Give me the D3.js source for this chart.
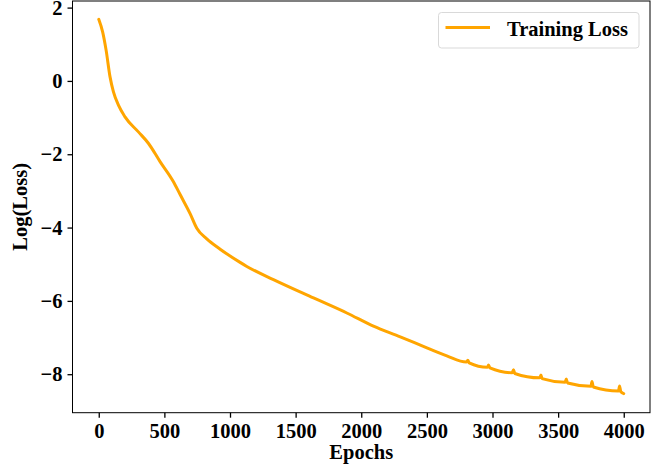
<!DOCTYPE html>
<html>
<head>
<meta charset="utf-8">
<script src="https://cdn.jsdelivr.net/npm/d3@7"></script>
<style>
  body { margin: 0; background: #fff; }
  svg { display: block; }
  text { font-family: "Liberation Serif", "Times New Roman", serif; font-weight: bold; }
</style>
</head>
<body>
<svg id="chart" width="671" height="473"></svg>
<script>
// ---- data ----
const epochs = [0, 30, 56, 86, 112, 150, 200, 302, 378, 467, 569, 620, 696, 747, 823, 925, 1077, 1128, 1331, 1636, 1890, 2093, 2297, 2500, 2652,
  2800, 2812, 2822, 2962, 2970, 2980, 3150, 3160, 3170, 3360, 3369, 3378, 3554, 3562, 3572, 3750, 3758, 3768, 3960, 3968, 3978, 4000];
const lossValues = [1.68, 1.33, 0.84, 0.11, -0.30, -0.66, -0.98, -1.39, -1.70, -2.20, -2.75, -3.10, -3.62, -4.02, -4.31, -4.59, -4.95, -5.06, -5.42, -5.92, -6.33, -6.69, -6.98, -7.28, -7.50,
  -7.67, -7.62, -7.69, -7.81, -7.75, -7.83, -7.96, -7.88, -7.98, -8.10, -8.02, -8.12, -8.22, -8.13, -8.24, -8.33, -8.20, -8.35, -8.46, -8.32, -8.48, -8.53];
const xTicks = [0, 500, 1000, 1500, 2000, 2500, 3000, 3500, 4000];
const yTicks = [2, 0, -2, -4, -6, -8];
const seriesName = "Training Loss";
const xLabel = "Epochs";
const yLabel = "Log(Loss)";

// ---- layout ----
const mLeft = 72.5, mRight = 650, mTop = 1, mBottom = 412.7;
const svg = d3.select("#chart");

const x = d3.scaleLinear().domain([-200, 4200]).range([mLeft, mRight]);
const y = d3.scaleLinear().domain([-9.05, 2.18]).range([mBottom, mTop]);

const fmt = d => (d < 0 ? "\u2212" + Math.abs(d) : String(d));

// line
const data = epochs.map((e, i) => ({ e, v: lossValues[i] }));
svg.append("path")
  .datum(data)
  .attr("fill", "none")
  .attr("stroke", "#FFA500")
  .attr("stroke-width", 3)
  .attr("stroke-linejoin", "round")
  .attr("stroke-linecap", "round")
  .attr("d", d3.line().x(d => x(d.e)).y(d => y(d.v)).curve(d3.curveMonotoneX));

// axes
const xAxis = svg.append("g")
  .attr("transform", `translate(0,${mBottom})`)
  .call(d3.axisBottom(x).tickValues(xTicks).tickSize(5).tickPadding(6).tickFormat(fmt));
const yAxis = svg.append("g")
  .attr("transform", `translate(${mLeft},0)`)
  .call(d3.axisLeft(y).tickValues(yTicks).tickSize(5).tickPadding(5).tickFormat(fmt));

[xAxis, yAxis].forEach(g => {
  g.select(".domain").remove();
  g.selectAll(".tick line").attr("stroke", "#000").attr("stroke-width", 1.3);
  g.selectAll(".tick text").attr("fill", "#000").style("font-size", "20.5px")
    .style("font-family", "'Liberation Serif', 'Times New Roman', serif").style("font-weight", "bold");
});

// frame
svg.append("rect")
  .attr("x", mLeft).attr("y", mTop)
  .attr("width", mRight - mLeft).attr("height", mBottom - mTop)
  .attr("fill", "none").attr("stroke", "#000").attr("stroke-width", 1);

// axis labels
svg.append("text")
  .attr("x", (mLeft + mRight) / 2).attr("y", 459)
  .attr("text-anchor", "middle")
  .style("font-size", "20.5px")
  .text(xLabel);
svg.append("text")
  .attr("transform", `translate(27,${(mTop + mBottom) / 2}) rotate(-90)`)
  .attr("text-anchor", "middle")
  .style("font-size", "20.5px")
  .text(yLabel);

// legend
const lg = svg.append("g");
lg.append("rect")
  .attr("x", 438.5).attr("y", 12.5).attr("width", 200.5).attr("height", 35.5)
  .attr("rx", 3).attr("fill", "#fff").attr("fill-opacity", 0.8)
  .attr("stroke", "#d9d9d9").attr("stroke-width", 1);
lg.append("line")
  .attr("x1", 445.5).attr("x2", 490).attr("y1", 27.5).attr("y2", 27.5)
  .attr("stroke", "#FFA500").attr("stroke-width", 3);
lg.append("text")
  .attr("x", 507).attr("y", 36)
  .style("font-size", "20.5px")
  .text(seriesName);
</script>
</body>
</html>
